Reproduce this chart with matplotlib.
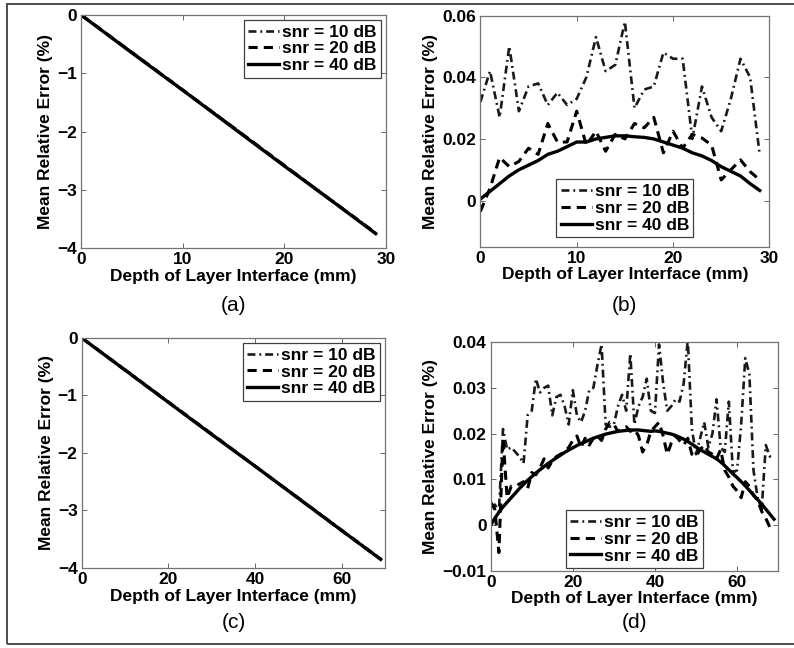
import numpy as np
import matplotlib.pyplot as plt
from matplotlib.patches import Rectangle

plt.rcParams['font.family'] = ['Liberation Sans', 'DejaVu Sans']
plt.rcParams['font.weight'] = 'bold'
plt.rcParams['font.size'] = 12

SNR_LABELS = ["snr = 10 dB", "snr = 20 dB", "snr = 40 dB"]
PANEL_LABELS = ["(a)", "(b)", "(c)", "(d)"]
X_LABEL = "Depth of Layer Interface (mm)"
Y_LABEL = "Mean Relative Error (%)"

# (a) 30 mm range, uncorrected error
depth_a = [0, 5, 10, 15, 20, 25, 29]
err_a_10 = [0.0, -0.64, -1.28, -1.93, -2.58, -3.22, -3.74]
err_a_20 = [0.0, -0.64, -1.29, -1.93, -2.58, -3.23, -3.74]
err_a_40 = [0.0, -0.65, -1.29, -1.94, -2.59, -3.23, -3.75]

# (b) 30 mm range, corrected error
depth_b = list(range(30))
err_b_10 = [0.032, 0.042, 0.027, 0.050, 0.029, 0.037, 0.038, 0.031, 0.035, 0.031,
            0.033, 0.040, 0.053, 0.042, 0.044, 0.058, 0.030, 0.036, 0.037, 0.048,
            0.046, 0.046, 0.020, 0.037, 0.027, 0.0225, 0.033, 0.046, 0.040, 0.0148]
err_b_20 = [-0.0035, 0.004, 0.014, 0.011, 0.0127, 0.017, 0.015, 0.025, 0.019, 0.019,
            0.029, 0.018, 0.0225, 0.016, 0.0215, 0.020, 0.025, 0.0236, 0.027, 0.0155,
            0.0225, 0.017, 0.0215, 0.0203, 0.018, 0.0067, 0.010, 0.0132, 0.0094, 0.0067]
err_b_40 = [0.0005, 0.003, 0.0055, 0.008, 0.010, 0.0115, 0.013, 0.015, 0.016, 0.0175,
            0.019, 0.019, 0.020, 0.0205, 0.021, 0.021, 0.0207, 0.0205, 0.020, 0.019,
            0.018, 0.017, 0.0155, 0.0145, 0.013, 0.011, 0.0095, 0.008, 0.0055, 0.0033]

# (c) 70 mm range, uncorrected error
depth_c = [0, 10, 20, 30, 40, 50, 60, 69]
err_c_10 = [0.0, -0.55, -1.11, -1.67, -2.23, -2.78, -3.34, -3.84]
err_c_20 = [0.0, -0.56, -1.12, -1.67, -2.23, -2.79, -3.35, -3.85]
err_c_40 = [0.0, -0.56, -1.12, -1.68, -2.23, -2.79, -3.35, -3.85]

# (d) 70 mm range, corrected error
depth_d = list(range(70))
err_d_10 = [0.004, 0.0045, 0.003, 0.021, 0.0165, 0.017, 0.016, 0.015, 0.0135, 0.024,
            0.025, 0.032, 0.029, 0.030, 0.0305, 0.024, 0.028, 0.0285, 0.026, 0.022,
            0.0295, 0.024, 0.0225, 0.025, 0.0295, 0.030, 0.035, 0.0395, 0.022, 0.0215,
            0.022, 0.026, 0.0285, 0.025, 0.0375, 0.022, 0.026, 0.028, 0.032, 0.025,
            0.0245, 0.0395, 0.031, 0.025, 0.026, 0.0275, 0.027, 0.031, 0.0405, 0.021,
            0.0155, 0.019, 0.0225, 0.017, 0.020, 0.0275, 0.017, 0.016, 0.027, 0.0115,
            0.012, 0.022, 0.0365, 0.033, 0.012, 0.006, 0.0035, 0.0175, 0.015, 0.0155]
err_d_20 = [0.005, 0.0035, -0.006, 0.019, 0.006, 0.0085, 0.0085, 0.009, 0.0095, 0.008,
            0.0115, 0.011, 0.0125, 0.0145, 0.0125, 0.014, 0.015, 0.0155, 0.016, 0.017,
            0.0185, 0.0195, 0.017, 0.019, 0.0175, 0.019, 0.0195, 0.0185, 0.021, 0.0225,
            0.022, 0.0205, 0.021, 0.0215, 0.0205, 0.021, 0.0195, 0.016, 0.0175, 0.0205,
            0.0215, 0.0225, 0.0195, 0.0155, 0.018, 0.0195, 0.0185, 0.0175, 0.019, 0.0155,
            0.015, 0.0165, 0.0175, 0.016, 0.0155, 0.0145, 0.0165, 0.012, 0.0105, 0.0085,
            0.0075, 0.006, 0.0095, 0.0085, 0.0065, 0.0055, 0.003, 0.0015, -0.0005, -0.001]
err_d_40 = [0.0, 0.0015, 0.0028, 0.0040, 0.0050, 0.0060, 0.0070, 0.0080, 0.0089, 0.0098,
            0.0106, 0.0114, 0.0121, 0.0128, 0.0135, 0.0141, 0.0147, 0.0153, 0.0159, 0.0164,
            0.0169, 0.0174, 0.0178, 0.0182, 0.0186, 0.0190, 0.0193, 0.0196, 0.0199, 0.0201,
            0.0203, 0.0205, 0.0206, 0.0207, 0.0208, 0.0208, 0.0208, 0.0207, 0.0206, 0.0205,
            0.0206, 0.0205, 0.0203, 0.0201, 0.0199, 0.0196, 0.0192, 0.0188, 0.0183, 0.0177,
            0.0171, 0.0165, 0.0160, 0.0155, 0.0150, 0.0145, 0.0138, 0.0130, 0.0121, 0.0112,
            0.0104, 0.0095, 0.0086, 0.0076, 0.0066, 0.0056, 0.0046, 0.0035, 0.0024, 0.0013]

STYLES = [
    dict(linestyle=(0, (3.0, 1.5, 0.7, 1.5)), linewidth=1.9, color="0.1"),
    dict(linestyle=(0, (3, 2)), linewidth=2.2, color="black"),
    dict(linestyle="-", linewidth=2.4, color="black"),
]

panels = [
    dict(rect=[0.102, 0.617, 0.384, 0.360], x=depth_a, ys=[err_a_10, err_a_20, err_a_40],
         xlim=(0, 30), xticks=[0, 10, 20, 30], ylim=(-4, 0), yticks=[-4, -3, -2, -1, 0],
         yticklabels=["\u22124", "\u22123", "\u22122", "\u22121", "0"],
         leg=dict(loc="upper right", bbox_to_anchor=(1.0, 1.0), borderaxespad=0.3),
         tag_xy=(0.294, 0.529)),
    dict(rect=[0.605, 0.619, 0.364, 0.357], x=depth_b, ys=[err_b_10, err_b_20, err_b_40],
         xlim=(0, 30), xticks=[0, 10, 20, 30], ylim=(-0.015, 0.06), yticks=[0, 0.02, 0.04, 0.06],
         yticklabels=["0", "0.02", "0.04", "0.06"],
         leg=dict(loc="lower center", bbox_to_anchor=(0.5, 0.043), borderaxespad=0.0),
         tag_xy=(0.787, 0.529)),
    dict(rect=[0.103, 0.1235, 0.382, 0.355], x=depth_c, ys=[err_c_10, err_c_20, err_c_40],
         xlim=(0, 70), xticks=[0, 20, 40, 60], ylim=(-4, 0), yticks=[-4, -3, -2, -1, 0],
         yticklabels=["\u22124", "\u22123", "\u22122", "\u22121", "0"],
         leg=dict(loc="upper right", bbox_to_anchor=(1.0, 1.0), borderaxespad=0.3),
         tag_xy=(0.294, 0.040)),
    dict(rect=[0.618, 0.119, 0.362, 0.353], x=depth_d, ys=[err_d_10, err_d_20, err_d_40],
         xlim=(0, 70), xticks=[0, 20, 40, 60], ylim=(-0.01, 0.04),
         yticks=[-0.01, 0, 0.01, 0.02, 0.03, 0.04],
         yticklabels=["\u22120.01", "0", "0.01", "0.02", "0.03", "0.04"],
         leg=dict(loc="lower center", bbox_to_anchor=(0.5, 0.013), borderaxespad=0.0),
         tag_xy=(0.799, 0.040)),
]

fig = plt.figure(figsize=(7.94, 6.48), dpi=100)

for i, p in enumerate(panels):
    ax = fig.add_axes(p["rect"])
    for ys, st, lab in zip(p["ys"], STYLES, SNR_LABELS):
        ax.plot(p["x"], ys, label=lab, **st)
    ax.set_xlim(*p["xlim"])
    ax.set_ylim(*p["ylim"])
    ax.set_xticks(p["xticks"])
    ax.set_yticks(p["yticks"])
    ax.set_yticklabels(p["yticklabels"])
    ax.tick_params(direction="in", top=True, right=True, length=3.5, width=0.6,
                   labelsize=12.5, pad=3, color="0.3")
    for sp in ax.spines.values():
        sp.set_color("0.45")
        sp.set_linewidth(0.9)
    ax.set_xlabel(X_LABEL, fontsize=12.5, fontweight="bold", labelpad=1)
    ax.set_ylabel(Y_LABEL, fontsize=12.5, fontweight="bold", labelpad=3)
    leg = ax.legend(fontsize=12.5, frameon=True, fancybox=False, edgecolor="0.25",
                    framealpha=1, handlelength=1.8, handletextpad=0.15,
                    labelspacing=0.1, borderpad=0.25, **p["leg"])
    leg.get_frame().set_linewidth(0.9)
    fig.text(p["tag_xy"][0], p["tag_xy"][1], PANEL_LABELS[i], ha="center", va="center",
             fontsize=15, fontweight="normal")

# outer frame around the whole figure
fig.patches.append(Rectangle((0.009, 0.0062), 1.2, 0.9876, transform=fig.transFigure,
                             fill=False, edgecolor="0.3", linewidth=1.4))

fig.savefig("out.png", dpi=100)
